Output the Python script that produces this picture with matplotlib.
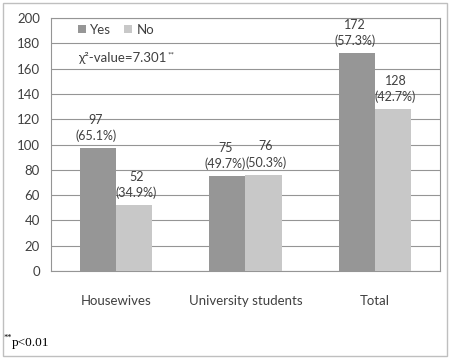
import numpy as np
import matplotlib
matplotlib.use("Agg")
import matplotlib.pyplot as plt
from matplotlib.patches import Rectangle

categories = ["Housewives", "University students", "Total"]
yes_counts = [97, 75, 172]
no_counts = [52, 76, 128]
yes_pct = ["65.1%", "49.7%", "57.3%"]
no_pct = ["34.9%", "50.3%", "42.7%"]
y_ticks = list(range(0, 201, 20))

plt.rcParams['font.family'] = ['Lato', 'DejaVu Sans']
text_col = "#404040"

fig = plt.figure(figsize=(4.53, 3.6), dpi=100)
ax = fig.add_axes([0.1126, 0.247, 0.858, 0.703])

x = np.arange(len(categories))
w = 0.28
ax.bar(x - w/2, yes_counts, w, color="#969696", label="Yes", zorder=3)
ax.bar(x + w/2, no_counts, w, color="#c8c8c8", label="No", zorder=3)

#data labels: count on top line, percentage below (nudged apart so they don't touch)
for i in range(len(categories)):
    ax.text(x[i] - w/2 - 0.015, yes_counts[i] + 5, "%d\n(%s)" % (yes_counts[i], yes_pct[i]),
            ha="center", va="bottom", fontsize=9, color=text_col, linespacing=1.35, zorder=4)
    ax.text(x[i] + w/2 + 0.02, no_counts[i] + 5, "%d\n(%s)" % (no_counts[i], no_pct[i]),
            ha="center", va="bottom", fontsize=9, color=text_col, linespacing=1.35, zorder=4)

ax.set_xlim(-0.5, 2.5)
ax.set_ylim(0, 200)
ax.set_yticks(y_ticks)
ax.set_xticks(x)
ax.set_xticklabels(categories)
ax.yaxis.grid(True, color="#959595", linewidth=0.8, zorder=0)
ax.tick_params(axis="both", length=0, labelsize=9.5, labelcolor=text_col)
ax.tick_params(axis="x", pad=17)
ax.tick_params(axis="y", pad=8)
for s in ax.spines.values():
    s.set_color("#959595")
    s.set_linewidth(0.8)

ax.legend(loc="upper left", bbox_to_anchor=(0.04, 1.025), ncol=2, frameon=False,
          fontsize=9.5, handlelength=0.6, handleheight=0.6, handletextpad=0.3,
          columnspacing=1.0, labelcolor=text_col)
chi = ax.text(0.07, 0.84, "χ²-value=7.301", transform=ax.transAxes, fontsize=9.5,
              color=text_col, va="center")
ax.annotate("**", xy=(1, 1), xycoords=chi, xytext=(1, 1), textcoords="offset points",
            fontsize=6, color=text_col, va="top", ha="left")

foot = fig.text(0.026, 0.04, "p<0.01", family="Liberation Serif", fontsize=9.5, color="black")
ax.annotate("**", xy=(0, 1), xycoords=foot, xytext=(0, 2), textcoords="offset points",
            fontsize=6, family="Liberation Serif", color="black", va="top", ha="right")

fig.patches.append(Rectangle((0.006, 0.012), 0.98, 0.98, transform=fig.transFigure,
                             fill=False, edgecolor="#bfbfbf", linewidth=1))

fig.savefig("out.png", dpi=100)
